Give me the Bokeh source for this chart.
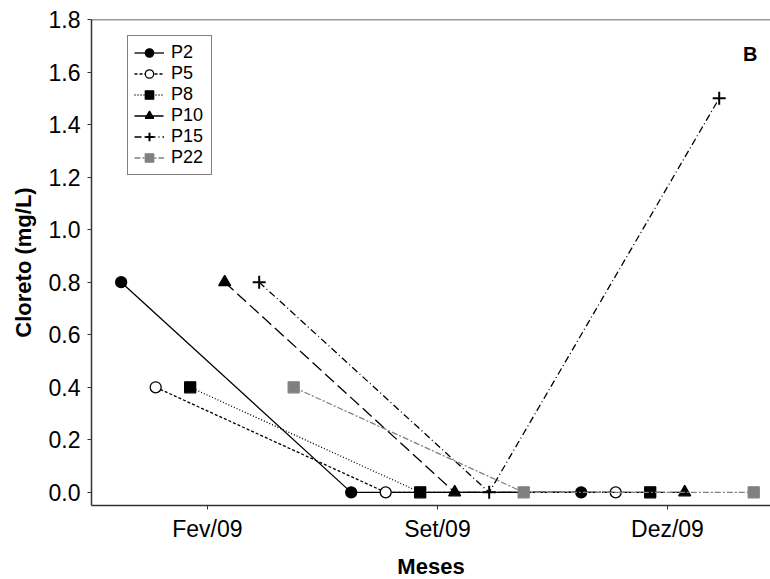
from bokeh.plotting import figure
from bokeh.models import FixedTicker, Span, Label, Legend, PrintfTickFormatter
from bokeh.embed import file_html
from bokeh.resources import INLINE

# Sampling months (x categories) and chloride concentrations (mg/L) per well
months = ["Fev/09", "Set/09", "Dez/09"]
series_names = ["P2", "P5", "P8", "P10", "P15", "P22"]
P2 = [0.8, 0.0, 0.0]
P5 = [0.4, 0.0, 0.0]
P8 = [0.4, 0.0, 0.0]
P10 = [0.8, 0.0, 0.0]
P15 = [0.8, 0.0, 1.5]
P22 = [0.4, 0.0, 0.0]
y_ticks = [0.0, 0.2, 0.4, 0.6, 0.8, 1.0, 1.2, 1.4, 1.6, 1.8]

values = [P2, P5, P8, P10, P15, P22]

# style per series: (line color, dash, marker, fill color, marker size)
styles = [
    ("black", "solid", "circle", "black", 11),
    ("black", "3 2", "circle", "white", 11),
    ("black", "1 2", "square", "black", 11),
    ("black", "12 5", "triangle", "black", 12),
    ("black", "7 3 1 3", "cross", "black", 13),
    ("#808080", "6 2 2 2", "square", "#808080", 11),
]

FONT = "Liberation Sans"

p = figure(
    frame_width=679, frame_height=486,
    min_border_left=91, min_border_right=0, min_border_top=19, min_border_bottom=74,
    x_range=(-0.504, 2.448), y_range=(-0.05, 1.8),
    output_backend="svg", toolbar_location=None,
)
p.outline_line_color = None
p.grid.visible = False
p.background_fill_color = "white"
p.border_fill_color = "white"

legend_items = []
step = 0.15
for i, (name, vals, st) in enumerate(zip(series_names, values, styles)):
    color, dash, marker, fill, size = st
    off = (i - 2.5) * step
    xs = [k + off for k in range(len(months))]
    r1 = p.line(xs, vals, line_color=color, line_dash=dash, line_width=1.3)
    r2 = p.scatter(xs, vals, marker=marker, size=size, line_color=color,
                   fill_color=fill, line_width=2 if marker == "cross" else 1.3)
    legend_items.append((name, [r1, r2]))

legend = Legend(items=legend_items, location=(36, 330))
legend.border_line_color = "black"
legend.border_line_width = 1
legend.padding = 6
legend.margin = 0
legend.spacing = 0
legend.glyph_width = 30
legend.glyph_height = 21
legend.label_height = 21
legend.label_width = 34
legend.label_standoff = 7
legend.label_text_font = FONT
legend.label_text_font_size = "18px"
legend.label_text_color = "black"
legend.label_text_baseline = "middle"
legend.background_fill_alpha = 1
p.add_layout(legend, "center")

# top frame line
p.add_layout(Span(location=1.8, dimension="width", line_color="#333333", line_width=1.5))

p.xaxis.ticker = FixedTicker(ticks=list(range(len(months))))
p.xaxis.major_label_overrides = {i: m for i, m in enumerate(months)}
p.yaxis.ticker = FixedTicker(ticks=y_ticks)
p.yaxis.formatter = PrintfTickFormatter(format="%.1f")

for ax in (p.xaxis[0], p.yaxis[0]):
    ax.axis_line_color = "#333333"
    ax.axis_line_width = 1.5
    ax.major_tick_line_color = "#333333"
    ax.major_tick_in = 0
    ax.major_tick_out = 4
    ax.minor_tick_line_color = None
    ax.major_label_text_font = FONT
    ax.major_label_text_font_size = "23px"
    ax.major_label_text_color = "black"
    ax.axis_label_text_font = FONT
    ax.axis_label_text_font_size = "22px"
    ax.axis_label_text_font_style = "bold"
    ax.axis_label_text_color = "black"

p.xaxis.axis_label = "Meses"
p.yaxis.axis_label = "Cloreto (mg/L)"
p.xaxis.major_label_standoff = 6
p.xaxis.axis_label_standoff = 9
p.yaxis.major_label_standoff = 7
p.yaxis.axis_label_standoff = 10

p.add_layout(Label(x=2.36, y=1.67, text="B", text_font=FONT, text_font_size="20px",
                   text_font_style="bold", text_color="black",
                   text_align="center", text_baseline="middle"))

open("out.html", "w").write(file_html(p, INLINE))
